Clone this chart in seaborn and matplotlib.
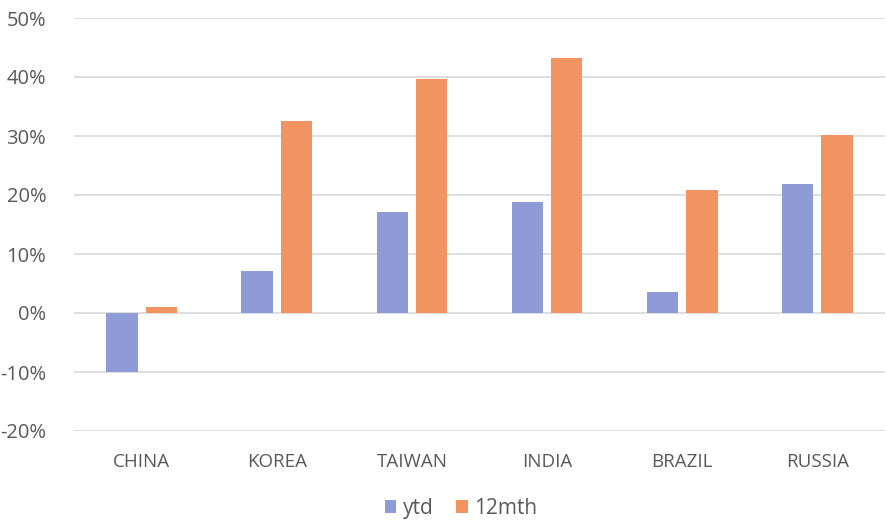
import pandas as pd
import matplotlib.pyplot as plt
import seaborn as sns
from matplotlib.ticker import FuncFormatter

sns.set_style("white")
plt.rcParams["font.family"] = ["Open Sans", "DejaVu Sans"]

# Returns by market (%)
countries = ["CHINA", "KOREA", "TAIWAN", "INDIA", "BRAZIL", "RUSSIA"]
ytd = [-10.0, 7.1, 17.1, 18.8, 3.6, 21.9]
mth12 = [1.1, 32.5, 39.6, 43.3, 20.9, 30.2]

df = pd.DataFrame({
    "country": countries * 2,
    "value": ytd + mth12,
    "series": ["ytd"] * len(countries) + ["12mth"] * len(countries),
})

text_col = "#595959"
fig = plt.figure(figsize=(8.86, 5.22), dpi=100)
ax = fig.add_axes([74 / 886, 1 - 431 / 522, 811 / 886, 413 / 522])

sns.barplot(data=df, x="country", y="value", hue="series",
            palette={"ytd": "#8E9BD7", "12mth": "#F29462"},
            width=0.58, gap=0.2, ax=ax, saturation=1, linewidth=0)

ax.set_ylim(-20, 50)
ax.set_xlim(-0.5, 5.5)
ax.set_yticks(range(-20, 51, 10))
ax.yaxis.set_major_formatter(FuncFormatter(lambda v, p: f"{v:.0f}%"))
ax.grid(axis="y", color="#D9D9D9", linewidth=1.2)
ax.set_axisbelow(True)
for s in ax.spines.values():
    s.set_visible(False)
ax.set_xlabel("")
ax.set_ylabel("")
ax.tick_params(axis="y", labelsize=14.5, colors=text_col, length=0, pad=20)
ax.tick_params(axis="x", labelsize=13.5, colors=text_col, length=0, pad=16)

ax.legend(loc="center", bbox_to_anchor=(0.477, -0.188), ncol=2, frameon=False,
          fontsize=15, labelcolor=text_col, handlelength=0.55, handleheight=0.55,
          handletextpad=0.3, columnspacing=1.1)

plt.savefig("out.png", dpi=100)
